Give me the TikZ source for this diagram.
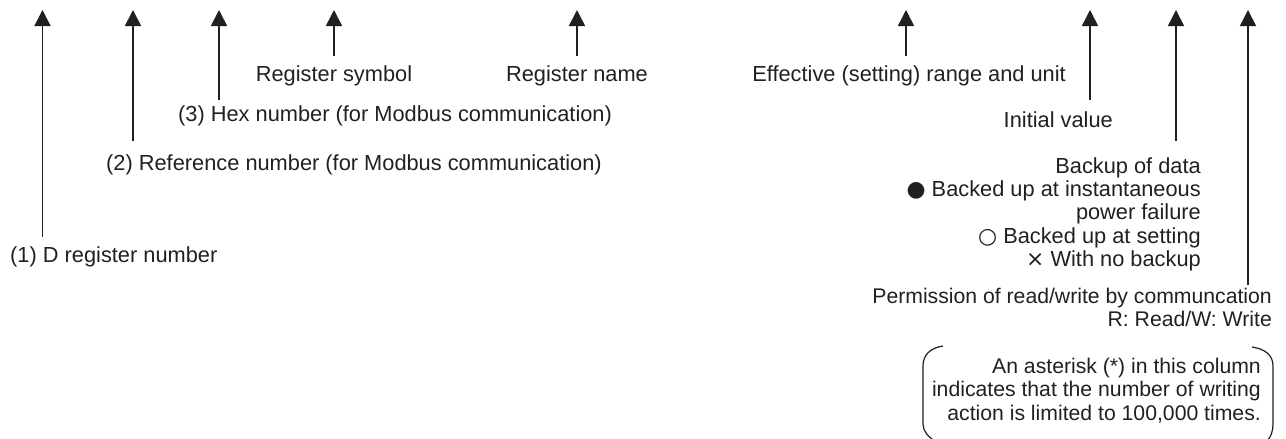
\documentclass[tikz,border=0pt]{standalone}
\usepackage{fontspec}
\setmainfont{Liberation Sans}
\newfontfamily\symfont{DejaVu Sans}
\usetikzlibrary{arrows.meta}
\definecolor{ink}{HTML}{231F20}
\begin{document}
\begin{tikzpicture}[x=1pt,y=-1pt,
  lbl/.style={inner sep=0pt,text=ink,font=\fontsize{21.8}{23.3}\selectfont},
  lbls/.style={lbl,font=\fontsize{21.2}{23.3}\selectfont},
  ptr/.style={draw=ink,line width=1.6pt,-{Triangle[width=16pt,length=16pt]}},
  brk/.style={draw=ink,line width=1.2pt}]
\useasboundingbox (0,0) rectangle (1286,439);
% labels
\node[lbl,anchor=base west] (l1) at (10,262) {(1) D register number};
\node[lbl,anchor=base west] (l2) at (106,170.7) {(2) Reference number (for Modbus communication)};
\node[lbl,anchor=base west] (l3) at (178,121.7) {(3) Hex number (for Modbus communication)};
\node[lbl,anchor=base] (l4) at (334,81) {Register symbol};
\node[lbl,anchor=base] (l5) at (577,81) {Register name};
\node[lbl,anchor=base east] (l6) at (1066,81) {Effective (setting) range and unit};
\node[lbl,anchor=base east] (l7) at (1113,127) {Initial value};
\node[lbl,anchor=base east,align=right] (l8) at (1201,266.3) {Backup of data\\
  {\symfont ●} Backed up at instantaneous\\ power failure\\ {\symfont ○} Backed up at setting\\ {\symfont ×} With no backup};
\node[lbls,anchor=base east,align=right] (l9) at (1272,326.7) {Permission of read/write by communcation\\ R: Read/W: Write};
\node[lbls,anchor=base east,align=right] (note) at (1261,420) {An asterisk (*) in this column\\
  indicates that the number of writing\\ action is limited to 100,000 times.};
% arrow ends
\coordinate (b1) at (42.5,237); \coordinate (t1) at (42.5,10);
\coordinate (b2) at (133,141);  \coordinate (t2) at (133,10);
\coordinate (b3) at (219,100);  \coordinate (t3) at (219,10);
\coordinate (b4) at (334,56);   \coordinate (t4) at (334,10);
\coordinate (b5) at (577,56);   \coordinate (t5) at (577,10);
\coordinate (b6) at (906,56);   \coordinate (t6) at (906,10);
\coordinate (b7) at (1090,100); \coordinate (t7) at (1090,10);
\coordinate (b8) at (1176,141); \coordinate (t8) at (1176,10);
\coordinate (b9) at (1248,285); \coordinate (t9) at (1248,10);
\foreach \i in {1,...,9} { \draw[ptr] (b\i) -- (t\i); }
% brackets around the note
\draw[brk] (943,346) .. controls (930,348) and (923,355) .. (923,366) -- (923,424) .. controls (923,431) and (928,437) .. (935,441);
\draw[brk] (1252,347) .. controls (1265,349) and (1273,355) .. (1273,366) -- (1273,424) .. controls (1273,431) and (1271,437) .. (1267,441);
\end{tikzpicture}
\end{document}
